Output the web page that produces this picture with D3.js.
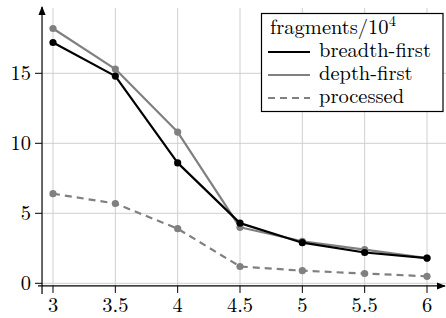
<!DOCTYPE html>
<html><head><meta charset="utf-8">
<script src="https://cdn.jsdelivr.net/npm/d3@7"></script>
<style>
html,body{margin:0;padding:0;background:#fff;}
svg{display:block;}
</style></head>
<body>
<script>
const xs = [3, 3.5, 4, 4.5, 5, 5.5, 6];
const breadthFirst = [17.2, 14.8, 8.6, 4.3, 2.9, 2.2, 1.8];
const depthFirst = [18.2, 15.3, 10.8, 4.0, 3.0, 2.4, 1.8];
const processed = [6.4, 5.7, 3.9, 1.2, 0.9, 0.7, 0.5];
const xTicks = [3, 3.5, 4, 4.5, 5, 5.5, 6];
const yTicks = [0, 5, 10, 15];
const legendTitle = "fragments/10";
const seriesNames = ["breadth-first", "depth-first", "processed"];

const W = 446, H = 318;
const FONT = "Latin Modern Roman, Liberation Serif, serif";
const FS = 20.5;
const svg = d3.select("body").append("svg").attr("width", W).attr("height", H);

const x = d3.scaleLinear().domain([3, 6]).range([53, 427]);
const y = d3.scaleLinear().domain([0, 15]).range([283.3, 73.3]);
const xMin = 2.912, yMin = -0.19, yMax = y.invert(8);

const axX = x(xMin), axY = y(yMin);
const grid = "#cfcfcf";

svg.append("g").selectAll("line").data(xTicks).join("line")
  .attr("x1", d => x(d)).attr("x2", d => x(d))
  .attr("y1", y(yMax)).attr("y2", axY)
  .attr("stroke", grid).attr("stroke-width", 1);
svg.append("g").selectAll("line").data(yTicks).join("line")
  .attr("x1", axX).attr("x2", W)
  .attr("y1", d => y(d)).attr("y2", d => y(d))
  .attr("stroke", grid).attr("stroke-width", 1);

const line = d3.line().x((d, i) => x(xs[i])).y(d => y(d));
const series = [
  {vals: depthFirst, color: "#808080", dash: null},
  {vals: processed, color: "#808080", dash: "7,5"},
  {vals: breadthFirst, color: "#000000", dash: null}
];
series.forEach(s => {
  svg.append("path").datum(s.vals).attr("d", line)
    .attr("fill", "none").attr("stroke", s.color).attr("stroke-width", 2.2)
    .attr("stroke-linejoin", "round")
    .attr("stroke-dasharray", s.dash);
  svg.append("g").selectAll("circle").data(s.vals).join("circle")
    .attr("cx", (d, i) => x(xs[i])).attr("cy", d => y(d)).attr("r", 3.6)
    .attr("fill", s.color);
});

const defs = svg.append("defs");
defs.append("marker").attr("id", "arr").attr("viewBox", "0 0 10 10")
  .attr("refX", 9).attr("refY", 5).attr("markerWidth", 9).attr("markerHeight", 9)
  .attr("markerUnits", "userSpaceOnUse").attr("orient", "auto")
  .append("path").attr("d", "M0,1 L10,5 L0,9 Z").attr("fill", "#000");

svg.append("line").attr("x1", axX).attr("x2", axX).attr("y1", axY + 8).attr("y2", 7)
  .attr("stroke", "#000").attr("stroke-width", 1.2).attr("marker-end", "url(#arr)");
svg.append("line").attr("x1", axX - 4).attr("x2", 445).attr("y1", axY).attr("y2", axY)
  .attr("stroke", "#000").attr("stroke-width", 1.2).attr("marker-end", "url(#arr)");

svg.append("g").selectAll("line").data(xTicks).join("line")
  .attr("x1", d => x(d)).attr("x2", d => x(d)).attr("y1", axY).attr("y2", axY + 7)
  .attr("stroke", "#000").attr("stroke-width", 1);
svg.append("g").selectAll("line").data(yTicks).join("line")
  .attr("x1", axX - 7).attr("x2", axX).attr("y1", d => y(d)).attr("y2", d => y(d))
  .attr("stroke", "#000").attr("stroke-width", 1);

svg.append("g").selectAll("text").data(xTicks).join("text")
  .attr("x", d => x(d)).attr("y", 312).attr("text-anchor", "middle")
  .attr("font-family", FONT).attr("font-size", FS).text(d => d);
svg.append("g").selectAll("text").data(yTicks).join("text")
  .attr("x", 31).attr("y", d => y(d) + 7).attr("text-anchor", "end")
  .attr("font-family", FONT).attr("font-size", FS).text(d => d);

const lg = svg.append("g");
lg.append("rect").attr("x", 261.5).attr("y", 13.5).attr("width", 181.5).attr("height", 98)
  .attr("fill", "#fff").attr("stroke", "#000").attr("stroke-width", 1.2);
const tt = lg.append("text").attr("x", 270).attr("y", 34).attr("font-family", FONT).attr("font-size", FS);
tt.append("tspan").text(legendTitle);
tt.append("tspan").attr("font-size", 14.5).attr("dy", -8).text("4");
const legStyles = [
  {color: "#000", dash: null},
  {color: "#808080", dash: null},
  {color: "#808080", dash: "7,5"}
];
seriesNames.forEach((n, i) => {
  const bl = 57 + i * 23;
  lg.append("line").attr("x1", 268).attr("x2", 310).attr("y1", bl - 5).attr("y2", bl - 5)
    .attr("stroke", legStyles[i].color).attr("stroke-width", 2.2)
    .attr("stroke-dasharray", legStyles[i].dash);
  lg.append("text").attr("x", 319).attr("y", bl).attr("font-family", FONT).attr("font-size", FS).text(n);
});
</script>
</body></html>
